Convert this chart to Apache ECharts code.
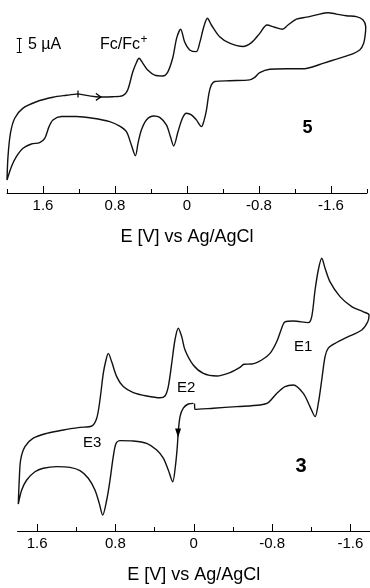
<!DOCTYPE html>
<html>
<head>
<meta charset="utf-8">
<script src="https://cdn.jsdelivr.net/npm/echarts@6.0.0/dist/echarts.min.js"></script>
<style>
html,body{margin:0;padding:0;background:#fff;}
#chart{width:370px;height:588px;}
</style>
</head>
<body>
<div id="chart"></div>
<script>
// ---- Compound 5 (upper voltammogram): potential E [V] and current [µA] ----
const topPotential = [
  1.211, 0.970, 0.826, 0.714, 0.659, 0.603, 0.559, 0.533, 0.492, 0.437,
  0.359, 0.270, 0.214, 0.159, 0.114, 0.070, 0.026, -0.030, -0.104, -0.141,
  -0.186, -0.227, -0.271, -0.363, -0.474, -0.622, -0.716, -0.808, -0.889, -0.974,
  -1.060, -1.122, -1.216, -1.327, -1.438, -1.567, -1.660, -1.771, -1.882, -1.956,
  -1.986, -1.982, -1.963, -1.919, -1.808, -1.660, -1.511, -1.400, -1.308, -1.104,
  -0.919, -0.808, -0.752, -0.697, -0.474, -0.308, -0.271, -0.244, -0.216, -0.186,
  -0.160, -0.104, -0.049, 0.007, 0.051, 0.100, 0.148, 0.184, 0.229, 0.303,
  0.370, 0.451, 0.507, 0.544, 0.573, 0.618, 0.673, 0.748, 0.859, 1.044,
  1.229, 1.396, 1.489, 1.533, 1.581, 1.637, 1.729, 1.822, 1.896, 1.951,
  2.000, 1.989, 1.962, 1.914, 1.822, 1.673, 1.489, 1.340, 1.211
];
const topCurrent = [
  35.4, 34.3, 34.4, 34.8, 36.8, 43.2, 46.8, 48.1, 46.4, 43.9,
  42.1, 41.8, 43.2, 48.2, 55.4, 58.5, 53.9, 51.1, 50.5, 53.6,
  59.3, 62.4, 60.0, 55.8, 53.5, 52.3, 53.7, 57.0, 60.0, 59.2,
  58.5, 60.0, 62.1, 62.8, 63.6, 64.4, 63.9, 63.3, 63.0, 61.8,
  59.4, 57.0, 53.5, 51.1, 49.3, 47.8, 46.3, 45.1, 44.4, 44.4,
  44.2, 43.0, 41.3, 40.4, 40.1, 39.8, 38.6, 35.6, 29.6, 25.5,
  23.7, 26.1, 27.9, 28.5, 26.7, 21.9, 16.8, 20.1, 24.3, 27.0,
  27.5, 26.1, 22.5, 17.8, 13.3, 17.1, 21.9, 23.9, 25.5, 26.7,
  27.3, 27.3, 26.1, 23.7, 19.5, 18.0, 17.5, 16.0, 13.0, 9.4,
  4.6, 13.0, 21.3, 26.7, 30.3, 32.6, 34.2, 34.9, 35.4
];

// ---- Compound 3 (lower voltammogram) ----
const bottomPotential = [
  0.003, 0.056, 0.107, 0.140, 0.158, 0.168, 0.186, 0.215, 0.260, 0.311,
  0.378, 0.481, 0.617, 0.753, 0.794, 0.822, 0.855, 0.889, 0.930, 0.965,
  1.009, 1.077, 1.162, 1.264, 1.400, 1.537, 1.622, 1.706, 1.757, 1.792,
  1.782, 1.768, 1.724, 1.639, 1.502, 1.332, 1.162, 1.042, 0.991, 0.958,
  0.924, 0.896, 0.873, 0.838, 0.787, 0.720, 0.617, 0.481, 0.345, 0.294,
  0.260, 0.225, 0.192, 0.158, 0.123, 0.089, 0.005, -0.098, -0.234, -0.370,
  -0.472, -0.513, -0.592, -0.694, -0.779, -0.847, -0.898, -0.932, -1.017, -1.170,
  -1.205, -1.239, -1.272, -1.307, -1.341, -1.392, -1.494, -1.613, -1.732, -1.790,
  -1.777, -1.716, -1.562, -1.443, -1.374, -1.341, -1.307, -1.272, -1.239, -1.187,
  -1.119, -1.017, -0.932, -0.847, -0.761, -0.677, -0.439, -0.200, -0.013, -0.008
];
const bottomCurrent = [
  31.9, 31.75, 30.7, 28.6, 24.8, 21.1, 16.5, 12.3, 15.25, 18.2,
  20.25, 21.9, 22.5, 22.6, 21.9, 18.6, 12.75, 7.75, 4.0, 6.9,
  10.25, 13.2, 15.1, 15.9, 16.1, 15.7, 14.8, 12.75, 10.25, 6.75,
  12.75, 17.75, 21.1, 23.2, 24.4, 25.25, 25.9, 26.25, 28.2, 32.75,
  39.4, 42.75, 44.4, 42.3, 38.6, 36.1, 34.6, 33.75, 33.3, 33.75,
  36.1, 41.9, 47.75, 50.7, 48.6, 45.25, 41.5, 39.4, 38.75, 39.6,
  40.9, 41.7, 41.75, 42.75, 44.4, 47.3, 50.7, 52.3, 52.5, 52.1,
  53.6, 60.25, 65.25, 68.2, 65.7, 62.3, 58.6, 56.1, 54.8, 54.0,
  52.3, 50.25, 48.4, 46.9, 45.7, 43.6, 37.75, 31.9, 28.6, 31.1,
  34.4, 36.5, 36.1, 34.4, 32.1, 31.5, 31.1, 30.7, 30.4, 31.9
];

// ---- axis ticks / labels ----
const majorTicks = [1.6, 0.8, 0, -0.8, -1.6];
const topMinorTicks = [2.0, 1.2, 0.4, -0.4, -1.2, -2.0];
const bottomMinorTicks = [1.2, 0.4, -0.4, -1.2];
const axisTitle = 'E [V] vs Ag/AgCl';

// ---- scale bar (5 µA) and scan markers ----
const scaleBarPotential = 1.864;
const scaleBarStart = 50.4;
const scaleBarSize = 5;
const topScanStart = [1.211, 35.4];
const topScanArrow = [0.985, 34.3];
const bottomScanArrow = [0.16, 24.5];

const FONT = '"Liberation Sans", Arial, Helvetica, sans-serif';
const pairs = (xs, ys) => xs.map((x, k) => [x, ys[k]]);

function minorAxis(grid, min, max, ticks) {
  return {
    gridIndex: grid, type: 'value', position: 'bottom', min: min, max: max, inverse: true,
    axisLine: { show: true, onZero: false, lineStyle: { color: '#000', width: 1 } },
    axisTick: { show: true, inside: true, length: 4, customValues: ticks, lineStyle: { color: '#000', width: 1 } },
    axisLabel: { show: false },
    splitLine: { show: false }
  };
}
function majorAxis(grid, min, max) {
  return {
    gridIndex: grid, type: 'value', position: 'bottom', min: min, max: max, inverse: true,
    axisLine: { show: false, onZero: false },
    axisTick: { show: true, inside: true, length: 7, customValues: majorTicks, lineStyle: { color: '#000', width: 1 } },
    axisLabel: { show: true, customValues: majorTicks, color: '#000', fontSize: 15, margin: 5, fontFamily: FONT },
    splitLine: { show: false },
    name: axisTitle, nameLocation: 'middle', nameGap: 35,
    nameTextStyle: { color: '#000', fontSize: 18, fontFamily: FONT }
  };
}

const lineStyle = { color: '#111', width: 1.4 };
const sb = scaleBarPotential, cap = 0.028;

const chart = echarts.init(document.getElementById('chart'), null, { renderer: 'canvas' });
chart.setOption({
  animation: false,
  backgroundColor: '#fff',
  textStyle: { fontFamily: FONT },
  grid: [
    { left: 7, width: 360, top: 4, height: 189, outerBoundsMode: 'none', containLabel: false },
    { left: 17.5, width: 352.5, top: 251, height: 280, outerBoundsMode: 'none', containLabel: false }
  ],
  xAxis: [
    minorAxis(0, -2.0, 2.0, topMinorTicks),
    majorAxis(0, -2.0, 2.0),
    minorAxis(1, -1.8, 1.8, bottomMinorTicks),
    majorAxis(1, -1.8, 1.8)
  ],
  yAxis: [
    { gridIndex: 0, type: 'value', min: 0, max: 67.5, show: false },
    { gridIndex: 1, type: 'value', min: 0, max: 70, show: false }
  ],
  series: [
    {
      type: 'line', xAxisIndex: 0, yAxisIndex: 0,
      data: pairs(topPotential, topCurrent),
      showSymbol: false, smooth: 0.3, clip: false,
      lineStyle: lineStyle,
      markLine: {
        silent: true, symbol: ['none', 'none'], animation: false,
        label: { show: false },
        lineStyle: { color: '#000', width: 1, type: 'solid' },
        data: [
          [{ coord: [sb, scaleBarStart] }, { coord: [sb, scaleBarStart + scaleBarSize] }],
          [{ coord: [sb + cap, scaleBarStart] }, { coord: [sb - cap, scaleBarStart] }],
          [{ coord: [sb + cap, scaleBarStart + scaleBarSize] }, { coord: [sb - cap, scaleBarStart + scaleBarSize] }]
        ]
      },
      markPoint: {
        silent: true, animation: false, label: { show: false },
        data: [
          { coord: topScanStart, symbol: 'rect', symbolSize: [1.2, 7], itemStyle: { color: '#000' } },
          { coord: topScanArrow, symbol: 'path://M0,0L8,5L0,10', symbolSize: [5, 7],
            itemStyle: { color: 'rgba(0,0,0,0)', borderColor: '#000', borderWidth: 1.2 } }
        ]
      }
    },
    {
      type: 'line', xAxisIndex: 2, yAxisIndex: 1,
      data: pairs(bottomPotential, bottomCurrent),
      showSymbol: false, smooth: 0.3, clip: false,
      lineStyle: lineStyle,
      markPoint: {
        silent: true, animation: false, label: { show: false },
        data: [
          { coord: bottomScanArrow, symbol: 'triangle', symbolRotate: 180, symbolSize: [6, 9], itemStyle: { color: '#000' } }
        ]
      }
    }
  ],
  graphic: [
    { type: 'text', x: 28, y: 45, style: { text: '5 µA', font: '16px ' + FONT, fill: '#000', textAlign: 'left', textVerticalAlign: 'middle' } },
    { type: 'text', x: 100, y: 45, style: { text: 'Fc/Fc', font: '16px ' + FONT, fill: '#000', textAlign: 'left', textVerticalAlign: 'middle' } },
    { type: 'text', x: 140.5, y: 40, style: { text: '+', font: '12px ' + FONT, fill: '#000', textAlign: 'left', textVerticalAlign: 'middle' } },
    { type: 'text', x: 307.5, y: 128.5, style: { text: '5', font: 'bold 18px ' + FONT, fill: '#000', textAlign: 'center', textVerticalAlign: 'middle' } },
    { type: 'text', x: 294, y: 347, style: { text: 'E1', font: '15px ' + FONT, fill: '#000', textAlign: 'left', textVerticalAlign: 'middle' } },
    { type: 'text', x: 177, y: 388, style: { text: 'E2', font: '15px ' + FONT, fill: '#000', textAlign: 'left', textVerticalAlign: 'middle' } },
    { type: 'text', x: 83, y: 443, style: { text: 'E3', font: '15px ' + FONT, fill: '#000', textAlign: 'left', textVerticalAlign: 'middle' } },
    { type: 'text', x: 301, y: 466, style: { text: '3', font: 'bold 20px ' + FONT, fill: '#000', textAlign: 'center', textVerticalAlign: 'middle' } }
  ]
});
</script>
</body>
</html>
